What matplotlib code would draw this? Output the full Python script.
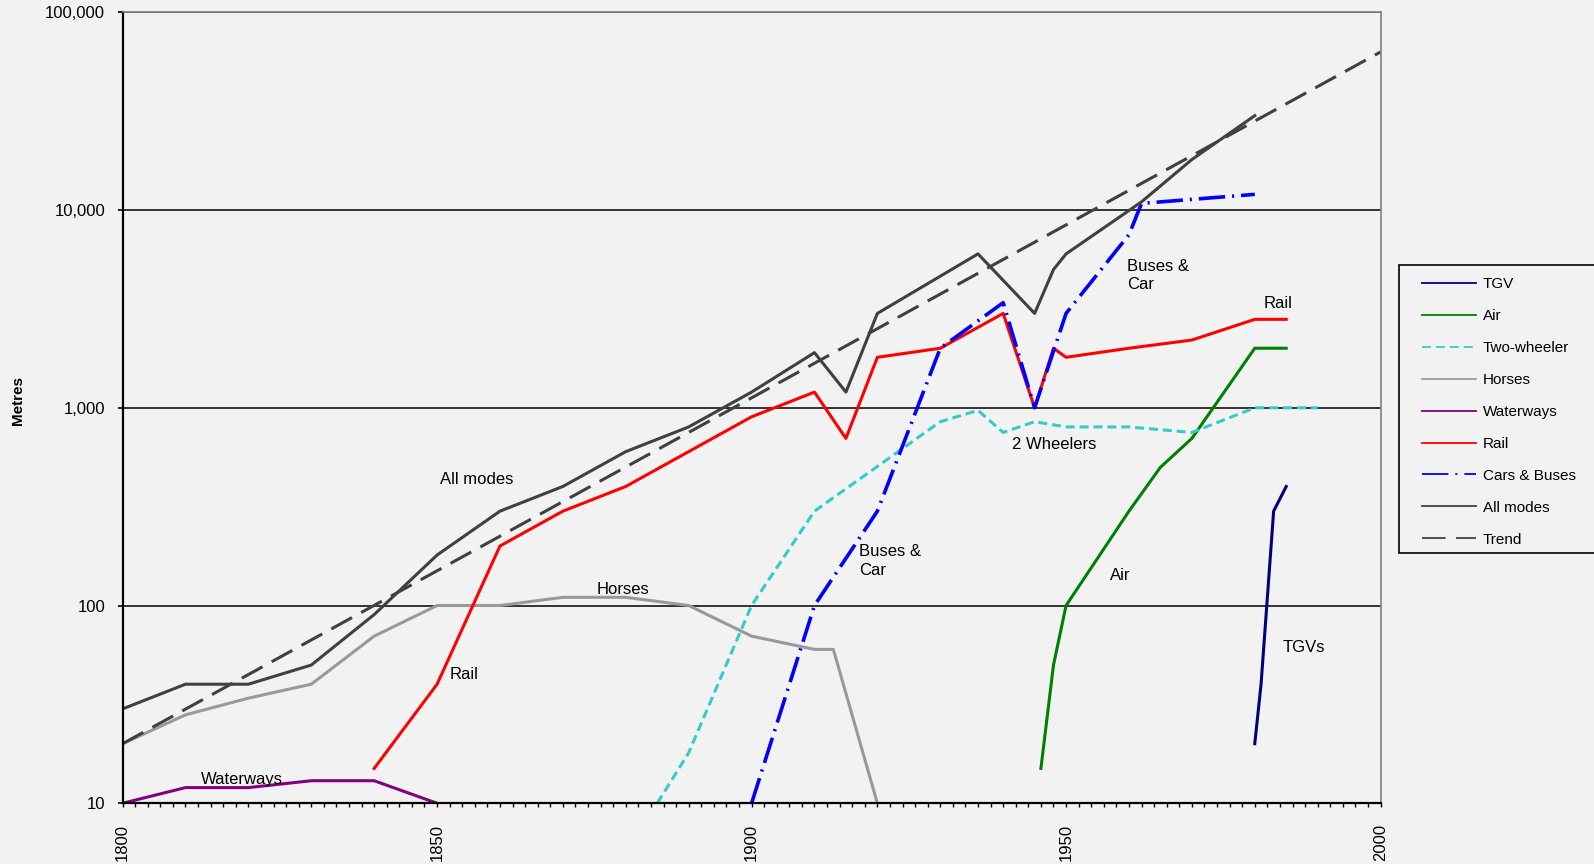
import matplotlib
matplotlib.use('Agg')
import matplotlib.pyplot as plt
from matplotlib.ticker import FixedLocator, MultipleLocator, FuncFormatter, NullLocator
from matplotlib.patches import Rectangle

plt.rcParams['font.family'] = ['Liberation Sans', 'DejaVu Sans']
plt.rcParams['lines.scale_dashes'] = False

# distance travelled per person per day, by mode (metres)
tgv_years = [1980, 1981, 1983, 1985]
tgv_vals = [20, 40, 300, 400]

air_years = [1946, 1948, 1950, 1960, 1965, 1970, 1980, 1985]
air_vals = [15, 50, 100, 300, 500, 700, 2000, 2000]

two_years = [1885, 1890, 1900, 1910, 1930, 1936, 1940, 1945, 1950, 1960, 1970, 1980, 1990]
two_vals = [10, 18, 100, 300, 850, 970, 750, 850, 800, 800, 750, 1000, 1000]

horse_years = [1800, 1810, 1820, 1830, 1840, 1850, 1860, 1870, 1880, 1890, 1900, 1910, 1913, 1920]
horse_vals = [20, 28, 34, 40, 70, 100, 100, 110, 110, 100, 70, 60, 60, 10]

water_years = [1800, 1810, 1820, 1830, 1840, 1850]
water_vals = [10, 12, 12, 13, 13, 10]

rail_years = [1840, 1850, 1860, 1870, 1880, 1890, 1900, 1910, 1915, 1920, 1930, 1940,
              1945, 1948, 1950, 1960, 1970, 1980, 1985]
rail_vals = [15, 40, 200, 300, 400, 600, 900, 1200, 700, 1800, 2000, 3000,
             1000, 2000, 1800, 2000, 2200, 2800, 2800]

car_years = [1900, 1910, 1920, 1930, 1940, 1945, 1950, 1960, 1962, 1980]
car_vals = [10, 100, 300, 2000, 3400, 1000, 3000, 7500, 10800, 12000]

all_years = [1800, 1810, 1820, 1830, 1840, 1850, 1860, 1870, 1880, 1890, 1900, 1910,
             1915, 1920, 1936, 1945, 1948, 1950, 1962, 1970, 1980]
all_vals = [30, 40, 40, 50, 90, 180, 300, 400, 600, 800, 1200, 1900,
            1200, 3000, 6000, 3000, 5000, 6000, 11000, 18000, 30000]

trend_years = [1800, 2000]
trend_vals = [20, 63000]

W, H = 1594, 864
bg = '#f2f2f2'

fig = plt.figure(figsize=(W / 100, H / 100), dpi=100, facecolor=bg)
ax = fig.add_axes([0.0769, 0.0703, 0.7892, 0.9155])
ax.set_facecolor(bg)

ax.plot(tgv_years, tgv_vals, color='#000080', lw=2.2, label='TGV')
ax.plot(air_years, air_vals, color='#008000', lw=2.2, label='Air')
ax.plot(two_years, two_vals, color='#33cccc', lw=2.2, dashes=(6.5, 3.5), label='Two-wheeler')
ax.plot(horse_years, horse_vals, color='#999999', lw=2.2, label='Horses')
ax.plot(water_years, water_vals, color='#800080', lw=2.2, label='Waterways')
ax.plot(rail_years, rail_vals, color='#ff0000', lw=2.2, label='Rail')
ax.plot(car_years, car_vals, color='#0000ff', lw=2.6, dashes=(19, 5, 1.5, 5), label='Cars & Buses')
ax.plot(all_years, all_vals, color='#404040', lw=2.2, label='All modes')
ax.plot(trend_years, trend_vals, color='#404040', lw=2.2, dashes=(17, 7.5), label='Trend')

ax.set_yscale('log')
ax.set_ylim(10, 100000)
ax.set_xlim(1800, 2000)
ax.yaxis.set_minor_locator(NullLocator())
ax.yaxis.set_major_formatter(FuncFormatter(lambda v, p: f'{int(round(v)):,}'))
ax.xaxis.set_major_locator(FixedLocator([1800, 1850, 1900, 1950, 2000]))
ax.xaxis.set_minor_locator(MultipleLocator(2))

ax.yaxis.grid(True, which='major', color='black', lw=1.1)
ax.set_axisbelow(True)

ax.tick_params(axis='x', which='both', direction='out', length=3, width=1, pad=12,
               labelsize=12, labelrotation=90)
ax.tick_params(axis='y', which='major', direction='out', length=3.6, width=1.2, pad=9,
               labelsize=12)

for side in ('left', 'bottom'):
    ax.spines[side].set_color('black')
    ax.spines[side].set_linewidth(1.6)
for side in ('top', 'right'):
    ax.spines[side].set_color('#808080')
    ax.spines[side].set_linewidth(1.2)

fig.text(18 / W, 1 - 400 / H, 'Metres', rotation=90, fontsize=11, fontweight='bold',
         ha='center', va='center')

# labels next to the curves
notes = [
    (1850.5, 433, 'All modes'),
    (1875.4, 120, 'Horses'),
    (1852, 45, 'Rail'),
    (1812.5, 13.2, 'Waterways'),
    (1917.1, 168, 'Buses &\nCar'),
    (1941.4, 652, '2 Wheelers'),
    (1957, 142, 'Air'),
    (1984.4, 61.5, 'TGVs'),
    (1959.7, 4670, 'Buses &\nCar'),
    (1981.4, 3380, 'Rail'),
]
for x, y, s in notes:
    ax.text(x, y, s, fontsize=12, ha='left', va='center', linespacing=1.3)

leg = ax.legend(loc='upper left', bbox_to_anchor=(1421.7 / W, 1 - 277.5 / H),
                bbox_transform=fig.transFigure, frameon=False, fontsize=11,
                borderpad=0, borderaxespad=0, handlelength=3.53, handletextpad=0.46,
                labelspacing=1.17)
for line in leg.get_lines():
    line.set_linewidth(1.3)

box = Rectangle((1399 / W, 1 - 553 / H), 0.2, (553 - 265) / H, transform=fig.transFigure,
                facecolor=bg, edgecolor='black', lw=1.2, zorder=-1)
fig.add_artist(box)

fig.savefig('out.png', dpi=100, facecolor=bg)
